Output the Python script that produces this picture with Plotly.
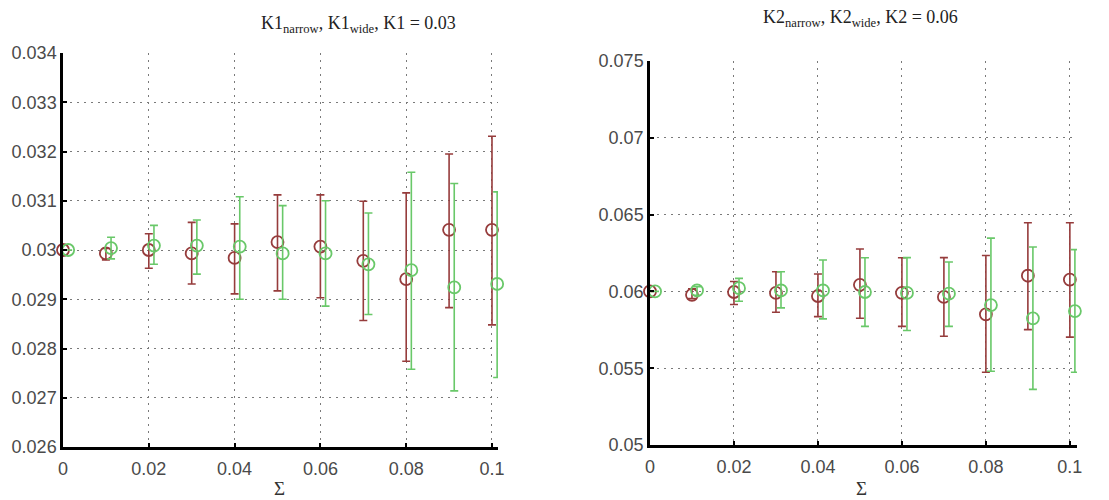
import plotly.graph_objects as go

# ---------------- data ----------------
sigma = [0.0, 0.01, 0.02, 0.03, 0.04, 0.05, 0.06, 0.07, 0.08, 0.09, 0.10]

# Left panel: K1 (true value 0.03)
k1_narrow = [0.03000, 0.02993, 0.03000, 0.02993, 0.02984, 0.03016, 0.03007, 0.02978, 0.02941, 0.03041, 0.03041]
k1_narrow_hi = [0.03000, 0.03003, 0.03033, 0.03056, 0.03053, 0.03112, 0.03112, 0.03099, 0.03116, 0.03195, 0.03231]
k1_narrow_lo = [0.03000, 0.02980, 0.02963, 0.02931, 0.02911, 0.02917, 0.02903, 0.02857, 0.02774, 0.02883, 0.02848]
k1_wide = [0.03000, 0.03004, 0.03009, 0.03009, 0.03007, 0.02993, 0.02993, 0.02971, 0.02959, 0.02924, 0.02931]
k1_wide_hi = [0.03000, 0.03026, 0.03050, 0.03061, 0.03108, 0.03090, 0.03100, 0.03075, 0.03158, 0.03135, 0.03118]
k1_wide_lo = [0.03000, 0.02982, 0.02971, 0.02951, 0.02900, 0.02900, 0.02886, 0.02869, 0.02758, 0.02714, 0.02741]

# Right panel: K2 (true value 0.06)
k2_narrow = [0.06000, 0.05978, 0.05996, 0.05990, 0.05970, 0.06043, 0.05991, 0.05964, 0.05851, 0.06102, 0.06077]
k2_narrow_hi = [0.06000, 0.06017, 0.06064, 0.06128, 0.06113, 0.06276, 0.06219, 0.06220, 0.06234, 0.06447, 0.06447]
k2_narrow_lo = [0.06000, 0.05953, 0.05915, 0.05864, 0.05836, 0.05825, 0.05772, 0.05708, 0.05474, 0.05751, 0.05702]
k2_wide = [0.06000, 0.06006, 0.06021, 0.06006, 0.06006, 0.05996, 0.05990, 0.05985, 0.05911, 0.05825, 0.05872]
k2_wide_hi = [0.06000, 0.06030, 0.06085, 0.06128, 0.06204, 0.06219, 0.06220, 0.06191, 0.06347, 0.06289, 0.06272]
k2_wide_lo = [0.06000, 0.05975, 0.05936, 0.05893, 0.05821, 0.05772, 0.05745, 0.05772, 0.05480, 0.05362, 0.05474]

x_ticks = [0, 0.02, 0.04, 0.06, 0.08, 0.1]
x_ticklabels = ["0", "0.02", "0.04", "0.06", "0.08", "0.1"]
y1_ticks = [0.026, 0.027, 0.028, 0.029, 0.030, 0.031, 0.032, 0.033, 0.034]
y1_ticklabels = ["0.026", "0.027", "0.028", "0.029", "0.03", "0.031", "0.032", "0.033", "0.034"]
y2_ticks = [0.05, 0.055, 0.06, 0.065, 0.07, 0.075]
y2_ticklabels = ["0.05", "0.055", "0.06", "0.065", "0.07", "0.075"]

title1 = "K1<sub>narrow</sub>, K1<sub>wide</sub>, K1 = 0.03"
title2 = "K2<sub>narrow</sub>, K2<sub>wide</sub>, K2 = 0.06"
x_label = "Σ"

# ---------------- style ----------------
RED = "rgb(150,60,60)"
GREEN = "rgb(105,200,105)"
DX = 0.0012  # horizontal offset of the "wide" series

fig = go.Figure()


def add_series(x, y, hi, lo, color, xa, ya):
    fig.add_trace(go.Scatter(
        x=x, y=y, mode="markers",
        marker=dict(symbol="circle-open", size=12, color=color, line=dict(width=1.8, color=color)),
        error_y=dict(type="data", symmetric=False,
                     array=[h - v for h, v in zip(hi, y)],
                     arrayminus=[v - l for v, l in zip(y, lo)],
                     color=color, thickness=1.6, width=4),
        xaxis=xa, yaxis=ya, showlegend=False, cliponaxis=False,
    ))


x_wide = [s + DX for s in sigma]
add_series(sigma, k1_narrow, k1_narrow_hi, k1_narrow_lo, RED, "x", "y")
add_series(x_wide, k1_wide, k1_wide_hi, k1_wide_lo, GREEN, "x", "y")
add_series(sigma, k2_narrow, k2_narrow_hi, k2_narrow_lo, RED, "x2", "y2")
add_series(x_wide, k2_wide, k2_wide_hi, k2_wide_lo, GREEN, "x2", "y2")

# page body has an 8px margin: work in reference pixel coords, shifted by OFF
OFF = 8
W, H = 1109 - OFF, 500 - OFF


def fx(px):
    return (px - OFF) / W


def fy(py):
    return (H - (py - OFF)) / H


tickfont = dict(family="Liberation Sans, Arial, sans-serif", size=18, color="#4a4a4a")
grid = dict(showgrid=True, gridcolor="#7a7a7a", griddash="2px,5px", gridwidth=1.3)
common_x = dict(grid, tickmode="array", tickvals=x_ticks, ticktext=x_ticklabels,
                showline=True, linecolor="black", linewidth=2.5,
                ticks="inside", ticklen=4, tickcolor="black", tickwidth=2,
                tickfont=tickfont, zeroline=False, automargin=False, ticklabelstandoff=4)
common_y = dict(grid, showline=True, linecolor="black", linewidth=2.5,
                ticks="inside", ticklen=4, tickcolor="black", tickwidth=2,
                tickfont=tickfont, zeroline=False, tickmode="array", automargin=False)

serif = "Liberation Serif, Times New Roman, serif"
fig.update_layout(
    width=W, height=H,
    margin=dict(l=0, r=0, t=0, b=0),
    paper_bgcolor="white", plot_bgcolor="white",
    xaxis=dict(common_x, domain=[fx(63), fx(498)], range=[0, 0.1014], anchor="y"),
    yaxis=dict(common_y, domain=[fy(447), fy(53)], range=[0.026, 0.034],
               tickvals=y1_ticks, ticktext=y1_ticklabels, anchor="x"),
    xaxis2=dict(common_x, domain=[fx(650), fx(1077)], range=[0, 0.1017], anchor="y2"),
    yaxis2=dict(common_y, domain=[fy(445), fy(61)], range=[0.05, 0.075],
                tickvals=y2_ticks, ticktext=y2_ticklabels, anchor="x2"),
    annotations=[
        dict(text=title1, x=fx(358), y=fy(25), xref="paper", yref="paper",
             xanchor="center", yanchor="middle", showarrow=False,
             font=dict(family=serif, size=18, color="#222222")),
        dict(text=title2, x=fx(860), y=fy(18), xref="paper", yref="paper",
             xanchor="center", yanchor="middle", showarrow=False,
             font=dict(family=serif, size=18, color="#222222")),
        dict(text=x_label, x=fx(279), y=fy(488), xref="paper", yref="paper",
             xanchor="center", yanchor="middle", showarrow=False,
             font=dict(family=serif, size=19, color="#333333")),
        dict(text=x_label, x=fx(861), y=fy(488), xref="paper", yref="paper",
             xanchor="center", yanchor="middle", showarrow=False,
             font=dict(family=serif, size=19, color="#333333")),
    ],
)

fig.write_html("out.html")
